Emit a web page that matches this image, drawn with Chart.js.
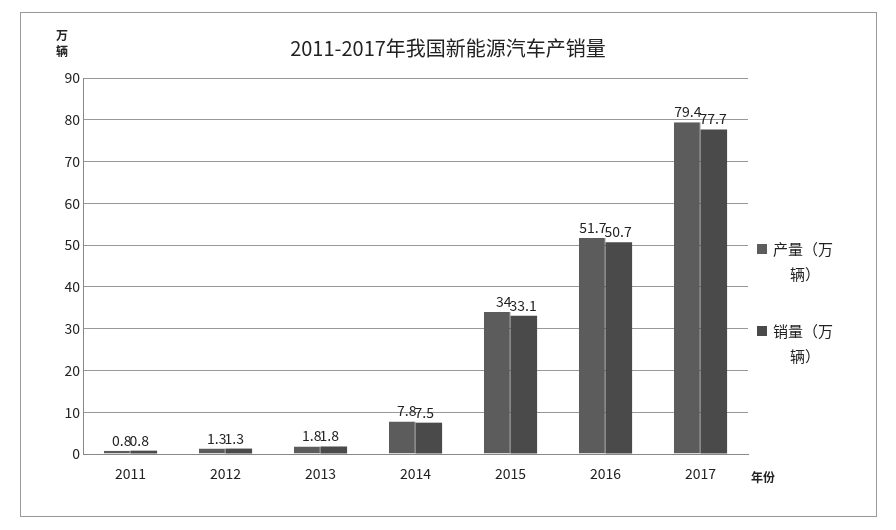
<!DOCTYPE html>
<html><head><meta charset="utf-8">
<script src="https://cdn.jsdelivr.net/npm/chart.js@4"></script>
<style>html,body{margin:0;padding:0;background:#fff}</style>
</head><body><canvas id="c" width="896" height="530"></canvas>
<script>
const years = ['2011','2012','2013','2014','2015','2016','2017'];
const production = [0.8,1.3,1.8,7.8,34,51.7,79.4];
const sales = [0.8,1.3,1.8,7.5,33.1,50.7,77.7];
const seriesNames = [['产量（万','辆）'],['销量（万','辆）']];
const font = '"Noto Sans CJK SC","Noto Sans",sans-serif';
const deco = {
  id:'deco',
  afterDraw(ch){
    const c=ch.ctx;
    c.save();
    c.strokeStyle='#999';c.lineWidth=1;c.strokeRect(20.5,12.5,856,504);
    c.fillStyle='#222';c.textAlign='center';c.textBaseline='alphabetic';
    c.font='20px '+font;c.fillText('2011-2017年我国新能源汽车产销量',448,56);
    c.font='bold 12px '+font;c.fillText('万',62,40);c.fillText('辆',62,56);
    c.fillText('年份',763,482);
    c.font='14px '+font;
    ch.data.datasets.forEach((ds,i)=>{
      const m=ch.getDatasetMeta(i);
      m.data.forEach((b,j)=>{
        c.textAlign = i===0?'right':'left';
        const x = i===0? b.x+ b.width/2 +1 : b.x - b.width/2 -1;
        c.fillText(String(ds.data[j]), x, b.y-5);
      });
    });
    c.textAlign='left';c.font='15px '+font;
    seriesNames.forEach((n,i)=>{
      const y=[250,332][i];
      c.fillStyle=ch.data.datasets[i].backgroundColor;c.fillRect(757,y-6,10,10);
      c.fillStyle='#222';c.fillText(n[0],773,y+5);c.fillText(n[1],790,y+30);
    });
    c.restore();
  }
};
new Chart(document.getElementById('c'),{
  type:'bar',
  data:{labels:years,datasets:[
    {label:'产量（万辆）',data:production,backgroundColor:'#5c5c5c',borderColor:'#3a3a3a',borderWidth:{right:1}},
    {label:'销量（万辆）',data:sales,backgroundColor:'#4a4a4a'}]},
  options:{responsive:false,animation:false,devicePixelRatio:1,
    layout:{padding:{left:40,right:148,top:78,bottom:36}},
    plugins:{legend:{display:false},tooltip:{enabled:false}},
    datasets:{bar:{categoryPercentage:0.56,barPercentage:1}},
    scales:{
      x:{grid:{display:false},border:{color:'#888'},ticks:{color:'#222',font:{size:14,family:font}},afterFit(s){s.height=40;}},
      y:{min:0,max:90,ticks:{stepSize:10,color:'#222',font:{size:14,family:font}},grid:{color:'#999',tickLength:0},border:{display:true,color:'#888'},afterFit(s){s.width=43;}}
    }},
  plugins:[deco]
});
</script></body></html>
